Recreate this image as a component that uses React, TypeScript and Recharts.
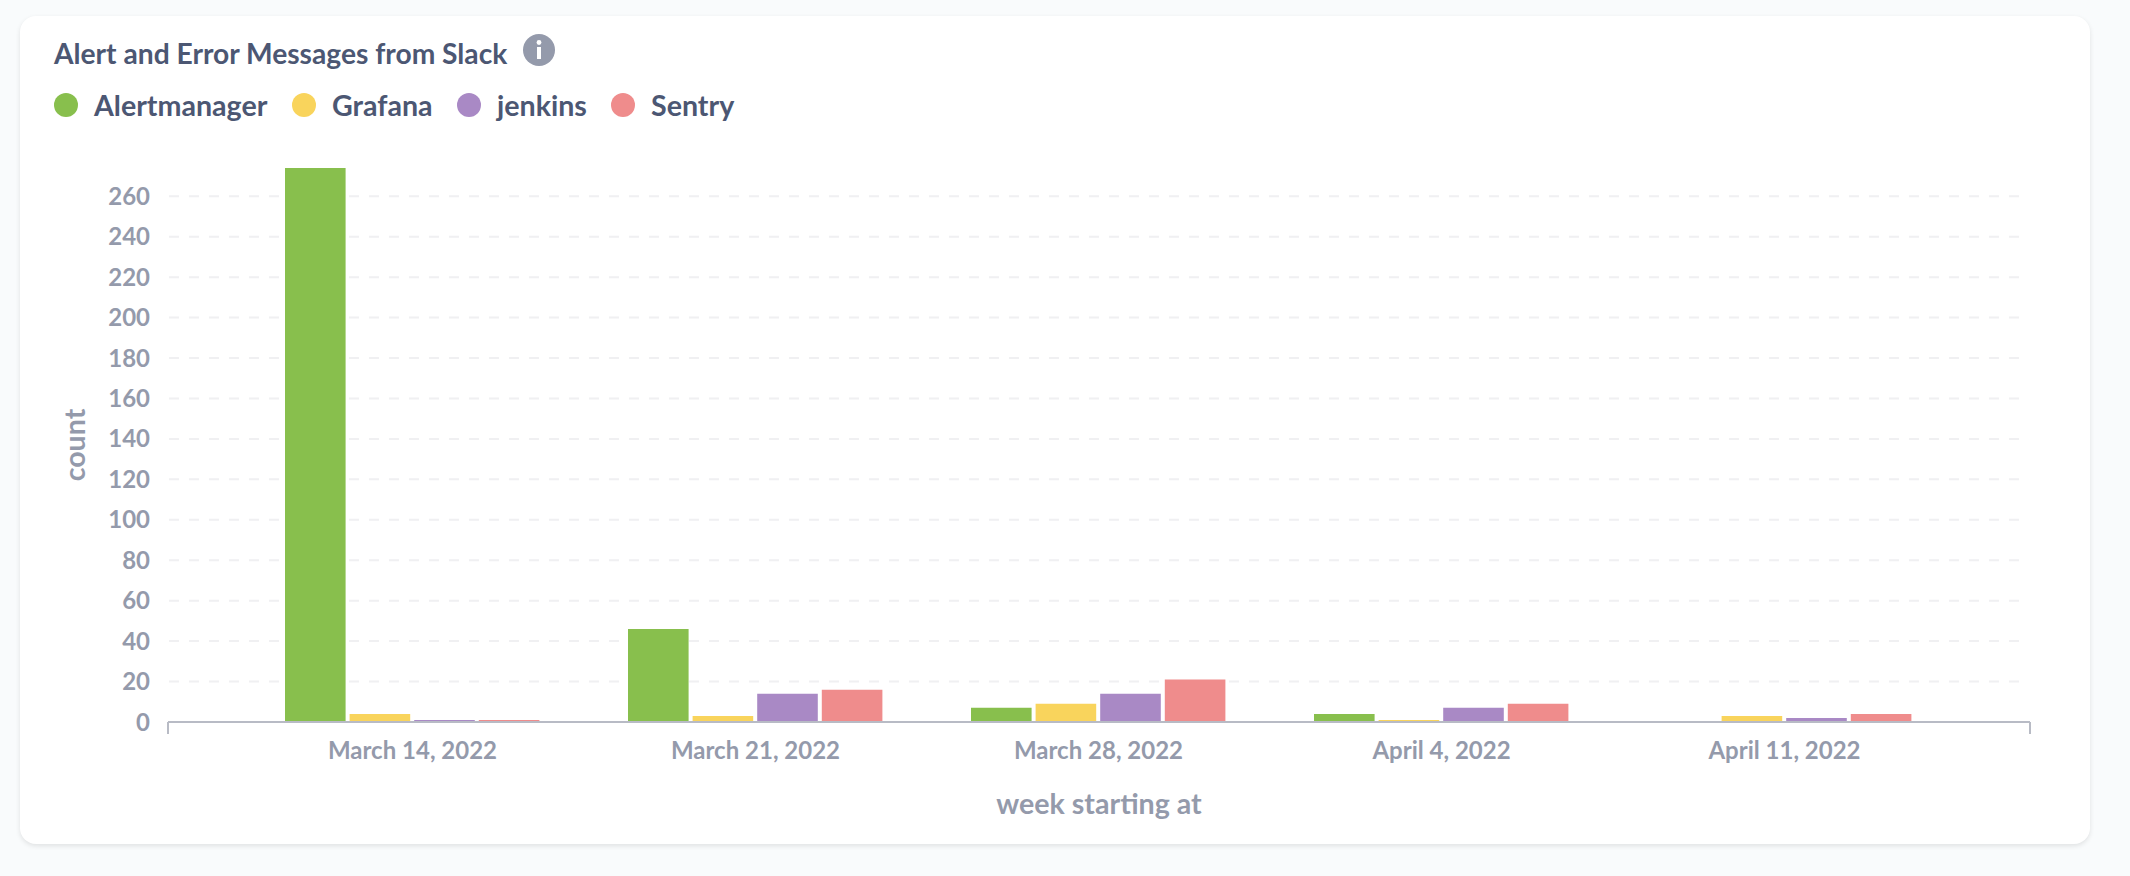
import React from "react";
import { BarChart, Bar, XAxis, YAxis, CartesianGrid } from "recharts";

const FONT = "Lato, sans-serif";
const TEXT_DARK = "#4c5773";
const TEXT_LIGHT = "#949aab";
const AXIS = "#b8bbc5";

// ── Data ──────────────────────────────────────────────────────────────────────

const weeks = ["March 14, 2022", "March 21, 2022", "March 28, 2022", "April 4, 2022", "April 11, 2022"];
const alertmanager = [274, 46, 7, 4, null];
const grafana = [4, 3, 9, 1, 3];
const jenkins = [1, 14, 14, 7, 2];
const sentry = [1, 16, 21, 9, 4];
const yTicks = [0, 20, 40, 60, 80, 100, 120, 140, 160, 180, 200, 220, 240, 260];

const seriesList = [
  { name: "Alertmanager", values: alertmanager, fill: "#88bf4d" },
  { name: "Grafana", values: grafana, fill: "#f9d45c" },
  { name: "jenkins", values: jenkins, fill: "#a989c5" },
  { name: "Sentry", values: sentry, fill: "#ef8c8c" },
];

const rows = weeks.map((week, i) => {
  const row: Record<string, string | number | null> = { week };
  seriesList.forEach((s) => { row[s.name] = s.values[i]; });
  return row;
});

// grid stops a little short of the axis end
function GridLine(props: any) {
  return (
    <line
      x1={props.x1 + 1}
      x2={props.x2 - 10}
      y1={props.y1}
      y2={props.y2}
      stroke="#f0f0f2"
      strokeWidth={2}
      strokeDasharray="10 10"
    />
  );
}

// x axis title, plus the two end ticks of the axis
function XTitle({ viewBox }: any) {
  const { x, y, width } = viewBox;
  return (
    <g>
      <line x1={x} x2={x} y1={y} y2={y + 12} stroke={AXIS} strokeWidth={2} />
      <line x1={x + width} x2={x + width} y1={y} y2={y + 12} stroke={AXIS} strokeWidth={2} />
      <text x={1099} y={y + 92} textAnchor="middle" fontFamily={FONT} fontWeight={700} fontSize={28.6} fill={TEXT_LIGHT}>
        week starting at
      </text>
    </g>
  );
}

function LegendRow() {
  const pos = [54, 292, 457, 611];
  return (
    <>
      {seriesList.map((s, i) => (
        <div key={s.name} style={{ position: "absolute", left: pos[i], top: 89, display: "flex", alignItems: "center", height: 32 }}>
          <div style={{ width: 24, height: 24, borderRadius: 12, backgroundColor: s.fill, flexShrink: 0 }} />
          <span style={{ marginLeft: 16, fontFamily: FONT, fontWeight: 700, fontSize: 28.6, color: TEXT_DARK, whiteSpace: "nowrap" }}>{s.name}</span>
        </div>
      ))}
    </>
  );
}

export default function App() {
  return (
    <div style={{ position: "absolute", left: 0, top: 0, width: 2130, height: 876, backgroundColor: "#f9fbfc", overflow: "hidden" }}>
      <div
        style={{
          position: "absolute",
          left: 20,
          top: 16,
          width: 2070,
          height: 828,
          backgroundColor: "#fff",
          borderRadius: 16,
          boxShadow: "0 2px 5px rgba(0,0,0,0.1)",
        }}
      />
      <div style={{ position: "absolute", left: 54, top: 36, fontFamily: FONT, fontWeight: 700, fontSize: 28.2, lineHeight: "34px", color: TEXT_DARK, whiteSpace: "nowrap" }}>
        Alert and Error Messages from Slack
      </div>
      <svg style={{ position: "absolute", left: 523, top: 34 }} width={32} height={32} viewBox="0 0 32 32">
        <circle cx={16} cy={16} r={16} fill={TEXT_LIGHT} />
        <circle cx={16} cy={8.5} r={2.4} fill="#fff" />
        <rect x={14} y={13} width={4} height={12} fill="#fff" />
      </svg>
      <LegendRow />

      <div style={{ position: "absolute", left: 0, top: 0 }}>
        <BarChart
          width={2130}
          height={876}
          data={rows}
          margin={{ top: 168, right: 100, bottom: 94, left: 88 }}
          barSize={60.6}
          barGap={4}
        >
          <CartesianGrid vertical={false} horizontal={GridLine} syncWithTicks />
          <XAxis
            dataKey="week"
            padding={{ left: 73, right: 74 }}
            height={60}
            interval={0}
            tickLine={false}
            tickMargin={14}
            tick={{ fontFamily: FONT, fontWeight: 700, fontSize: 24, fill: TEXT_LIGHT }}
            axisLine={{ stroke: AXIS, strokeWidth: 2 }}
            label={XTitle}
          />
          <YAxis
            type="number"
            domain={[0, 274]}
            ticks={yTicks}
            interval={0}
            width={80}
            axisLine={false}
            tickLine={false}
            tickMargin={12}
            tick={{ fontFamily: FONT, fontWeight: 700, fontSize: 24, fill: TEXT_LIGHT }}
            label={{
              value: "count",
              angle: -90,
              position: "insideLeft",
              offset: -13,
              style: { fontFamily: FONT, fontWeight: 700, fontSize: 28.6, fill: TEXT_LIGHT, textAnchor: "middle" },
            }}
          />
          {seriesList.map((s) => (
            <Bar key={s.name} dataKey={s.name} fill={s.fill} isAnimationActive={false} />
          ))}
        </BarChart>
      </div>
    </div>
  );
}
